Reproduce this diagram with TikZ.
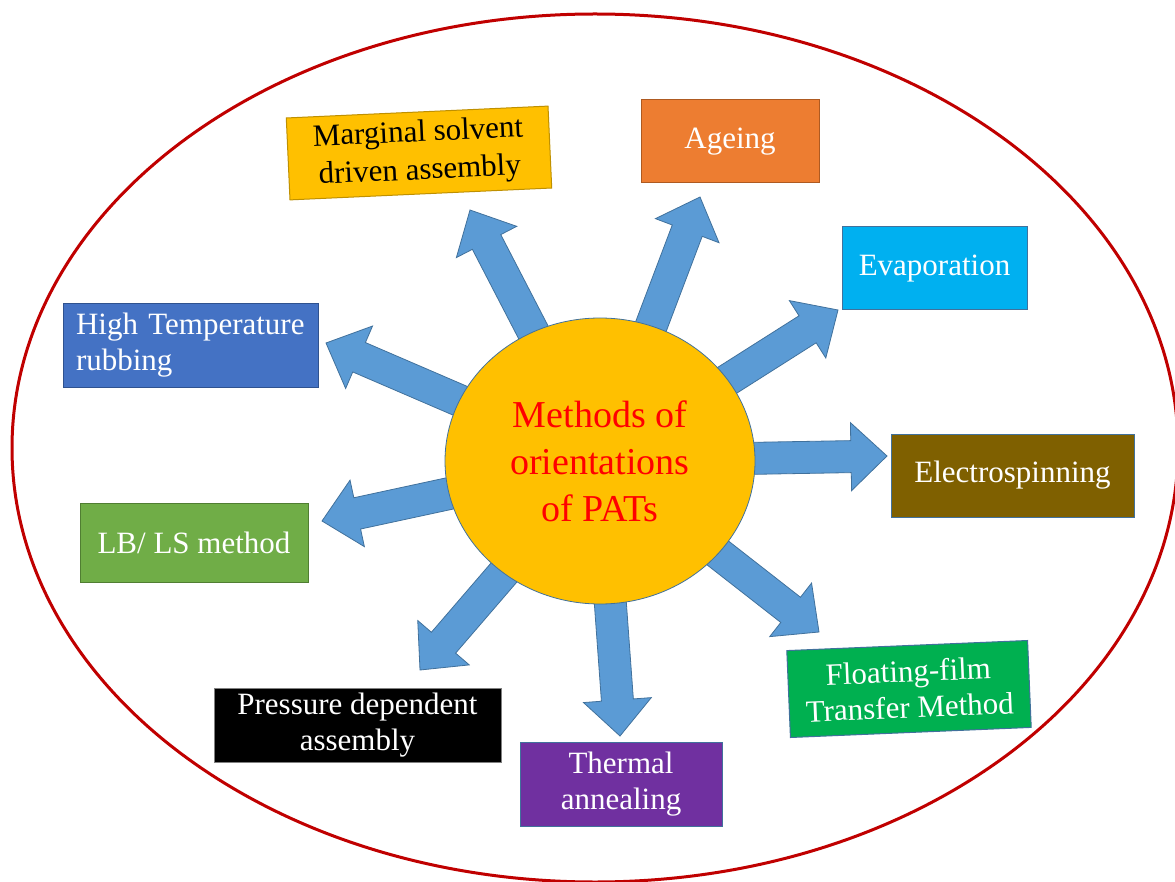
\documentclass[tikz,border=0pt]{standalone}
\usepackage{fontspec}
\setmainfont{Liberation Serif}
\usetikzlibrary{calc,shapes.geometric,backgrounds}
\definecolor{ellred}{HTML}{C00000}
\definecolor{arrfill}{HTML}{5B9BD5}
\definecolor{arrline}{HTML}{41719C}
\definecolor{gold}{HTML}{FFC000}
\definecolor{goldline}{HTML}{BF9000}
\definecolor{orng}{HTML}{ED7D31}
\definecolor{orngline}{HTML}{AE5A21}
\definecolor{cyanbox}{HTML}{00B0F0}
\definecolor{brownbox}{HTML}{7F6000}
\definecolor{greenbox}{HTML}{00B050}
\definecolor{purplebox}{HTML}{7030A0}
\definecolor{lgreen}{HTML}{70AD47}
\definecolor{lgreenline}{HTML}{507E32}
\definecolor{bluebox}{HTML}{4472C4}
\definecolor{blueline}{HTML}{2F528F}
\definecolor{titlered}{HTML}{FF0000}
\tikzset{
  box/.style={rectangle, draw=arrline, line width=1pt, text=white, align=center,
    inner sep=0pt, font=\fontsize{31}{36}\selectfont},
  arrowbody/.style={fill=arrfill, draw=arrline, line width=0.8pt, line join=miter},
  ell/.style={draw=ellred, line width=3pt},
}
\newcommand{\blockarrow}[2]{%
  \filldraw[arrowbody] let \p1=(#1), \p2=(#2),
    \n1={atan2(\y2-\y1,\x2-\x1)},
    \n2={veclen(\x2-\x1,\y2-\y1)-36pt} in
    ($(\p1)+(\n1+90:16pt)$) -- ($(\p1)+(\n1:\n2)+(\n1+90:16pt)$)
    -- ($(\p1)+(\n1:\n2)+(\n1+90:34pt)$) -- (\p2)
    -- ($(\p1)+(\n1:\n2)+(\n1-90:34pt)$) -- ($(\p1)+(\n1:\n2)+(\n1-90:16pt)$)
    -- ($(\p1)+(\n1-90:16pt)$) -- cycle;}
\begin{document}
\begin{tikzpicture}[x=1pt,y=-1pt]
\useasboundingbox (0,0) rectangle (1175,882);
\clip (0,0) rectangle (1175,882);
\draw[ell] (595,448) ellipse [x radius=583pt, y radius=434pt];

% centre
\node[ellipse, fill=gold, draw=arrline, line width=0.8pt, minimum width=310pt, minimum height=286pt,
  inner sep=0pt, text=titlered, align=center, font=\fontsize{38}{47}\selectfont] (c) at (600,461)
  {Methods of\\orientations\\of PATs};

% boxes
\node[box, fill=gold, draw=goldline, text=black, minimum width=262pt, minimum height=82pt,
  font=\fontsize{31}{38}\selectfont, rotate=2.6] (marg) at (419,153) {Marginal solvent\\driven assembly};
\node[box, fill=orng, draw=orngline, minimum width=178pt, minimum height=83pt] (age) at (730,141.5) {Ageing};
\node[box, fill=cyanbox, minimum width=185pt, minimum height=83pt] (evap) at (934.5,268.5) {Evaporation};
\node[box, fill=brownbox, minimum width=243pt, minimum height=83pt] (elec) at (1012.5,475.5) {Electrospinning};
\node[box, fill=greenbox, minimum width=241pt, minimum height=87pt, rotate=2.4] (float) at (909,689) {Floating-film\\Transfer Method};
\node[box, fill=purplebox, minimum width=202pt, minimum height=84pt] (therm) at (621,784) {Thermal\\annealing};
\node[box, fill=black, draw=gray, minimum width=287pt, minimum height=74pt] (press) at (357.5,725) {Pressure dependent\\assembly};
\node[box, fill=lgreen, draw=lgreenline, minimum width=228pt, minimum height=79pt] (lb) at (194,542.5) {LB/ LS method};
\node[box, fill=bluebox, draw=blueline, align=left, text width=229pt, inner xsep=13pt, minimum height=83pt] (high) at (190.5,345.5) {High Temperature\\rubbing};

% arrow tips
\coordinate (tmarg) at (470,210);
\coordinate (tage) at (700,197);
\coordinate (tevap) at (838,310);
\coordinate (telec) at (887,456);
\coordinate (tfloat) at (819,632);
\coordinate (ttherm) at (620,736);
\coordinate (tpress) at (420,670);
\coordinate (tlb) at (322,521);
\coordinate (thigh) at (326,343);

\begin{pgfonlayer}{background}
\foreach \t in {tmarg,tage,tevap,telec,tfloat,ttherm,tpress,tlb,thigh}{
  \blockarrow{c.center}{\t}
}
\end{pgfonlayer}
\end{tikzpicture}
\end{document}
